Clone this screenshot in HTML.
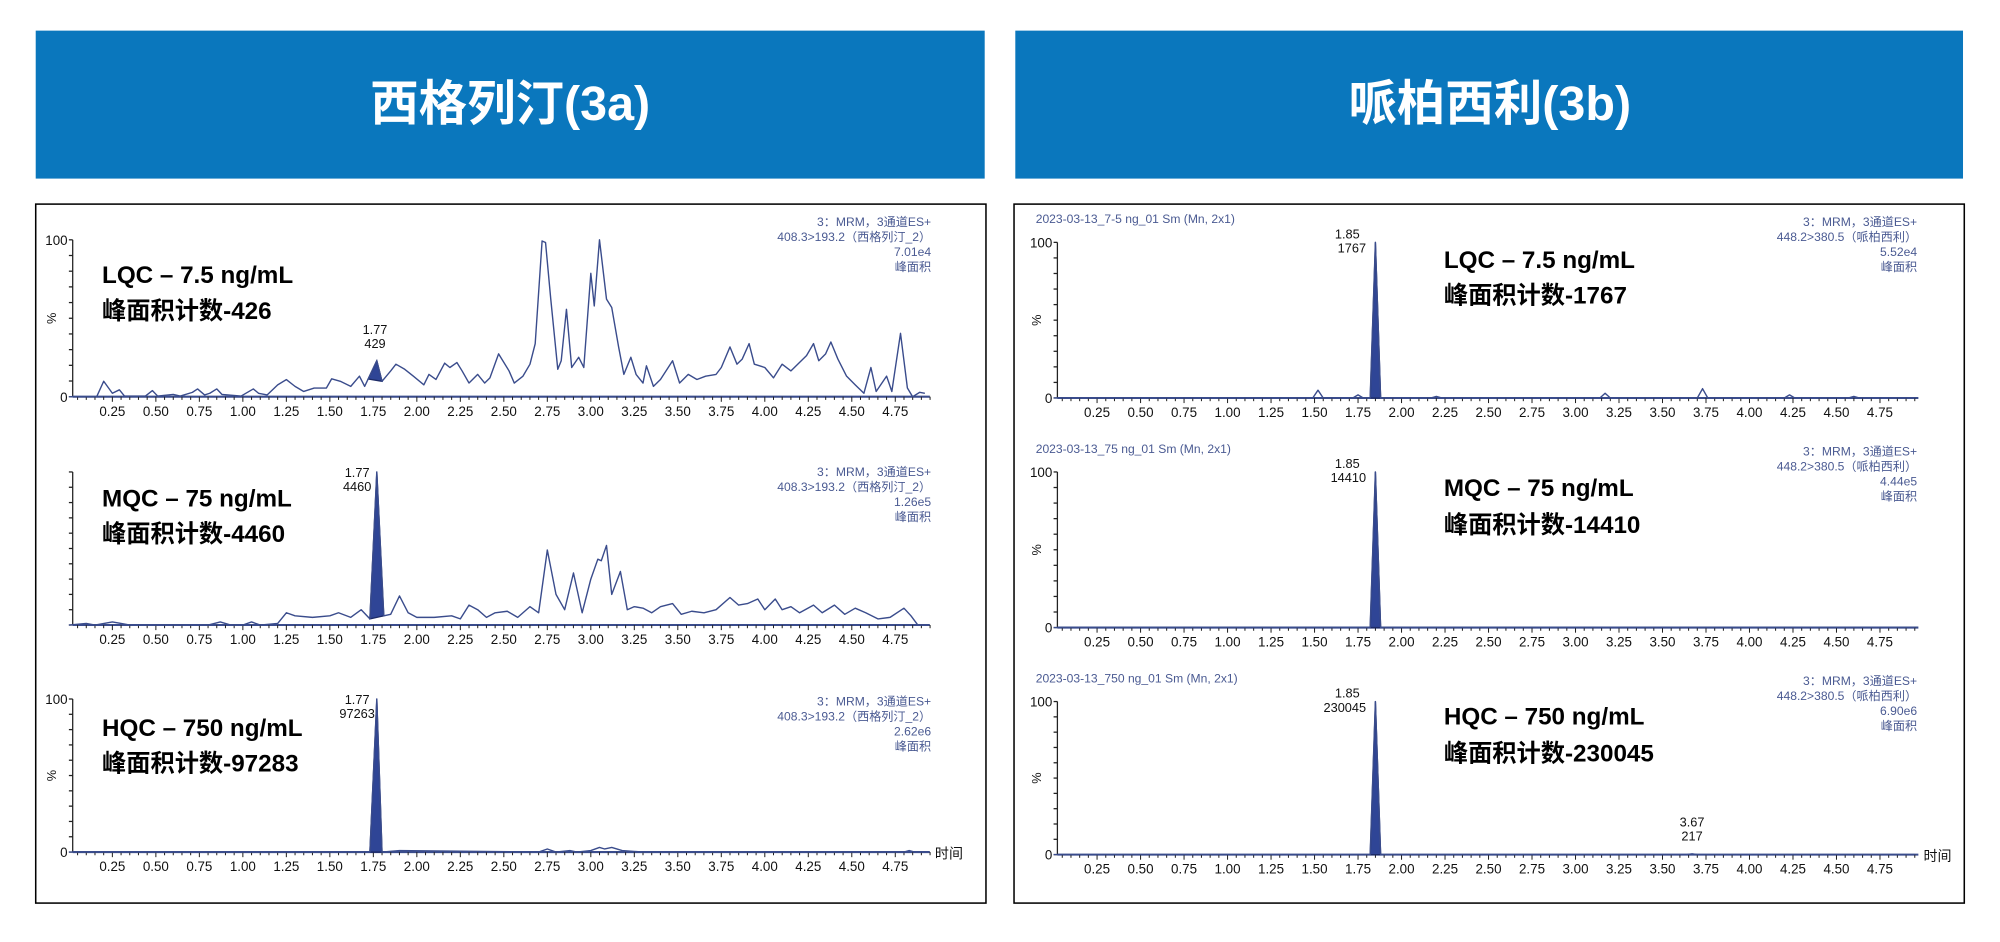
<!DOCTYPE html>
<html><head><meta charset="utf-8">
<style>
html,body{margin:0;padding:0;background:#fff;}
svg{display:block;}
text{font-family:"Liberation Sans","Noto Sans CJK SC",sans-serif;}
</style></head>
<body>
<svg id="root" width="2000" height="942" viewBox="0 0 1568 738.5" xmlns="http://www.w3.org/2000/svg">
<rect x="0" y="0" width="1568" height="738.5" fill="#fff"/>
<rect x="28" y="24" width="744" height="116" fill="#0a77bd"/>
<text x="400" y="94" text-anchor="middle" fill="#fff" font-size="38" font-weight="bold">西格列汀(3a)</text>
<rect x="796" y="24" width="743" height="116" fill="#0a77bd"/>
<text x="1168" y="94" text-anchor="middle" fill="#fff" font-size="38" font-weight="bold">哌柏西利(3b)</text>
<rect x="28" y="160" width="745" height="548" fill="none" stroke="#000" stroke-width="1.2"/>
<rect x="795" y="160" width="745" height="548" fill="none" stroke="#000" stroke-width="1.2"/>
<g id="charts"></g>
</svg>
<script>
// ---- data ----
const tickLabels = ["0.25","0.50","0.75","1.00","1.25","1.50","1.75","2.00","2.25","2.50","2.75","3.00","3.25","3.50","3.75","4.00","4.25","4.50","4.75"];
const L1_t = [0,0.16,0.20,0.25,0.29,0.32,0.44,0.48,0.51,0.60,0.64,0.71,0.74,0.78,0.81,0.85,0.88,0.99,1.06,1.09,1.14,1.20,1.25,1.30,1.35,1.41,1.48,1.51,1.56,1.62,1.67,1.70,1.77,1.80,1.85,1.88,1.93,1.98,2.04,2.07,2.11,2.16,2.19,2.23,2.26,2.30,2.35,2.39,2.42,2.47,2.53,2.56,2.61,2.65,2.68,2.72,2.74,2.77,2.81,2.83,2.86,2.89,2.93,2.96,3.00,3.02,3.05,3.09,3.12,3.16,3.19,3.23,3.26,3.30,3.32,3.36,3.40,3.47,3.51,3.56,3.61,3.66,3.72,3.75,3.80,3.84,3.87,3.91,3.94,4.00,4.05,4.10,4.15,4.19,4.24,4.28,4.31,4.35,4.38,4.42,4.47,4.52,4.57,4.61,4.64,4.70,4.73,4.78,4.82,4.85,4.89,4.92];
const L1_v = [0,0,9.8,2.2,4.4,0.4,0.4,3.9,0.4,1.5,0.4,2.8,5,1.1,2.2,5,1.5,0.4,5,2.2,1.1,7.6,10.9,6.6,3.3,5.5,5.5,11.4,9.8,6.6,13.1,6.6,22.9,9.8,16.4,20.7,17.5,13.1,7.6,14.2,11,21.4,18.6,21.8,16.4,8.7,14.2,8.7,12,27.3,16.4,8.7,13.1,20.7,33.8,99.3,98.3,62.2,17.5,22.9,55.7,18.6,25.1,18.6,78.6,57.9,100,62.2,56.8,31.7,14.2,25.1,14.2,8.7,19.7,6.6,11,22.9,8.7,14.2,11,13.1,14.2,18.6,31.7,20.7,24,33.8,20.7,18.6,12,20.7,16.4,20.7,26.2,33.8,22.9,27.3,34.9,24,13.1,7.6,2.2,18.6,3.3,13.1,3.3,40.4,5.5,0,2.8,2.2];
const L2_t = [0,0.10,0.15,0.25,0.30,0.35,0.45,0.60,0.80,0.87,0.93,1.00,1.05,1.10,1.20,1.25,1.30,1.40,1.50,1.55,1.62,1.68,1.73,1.77,1.81,1.85,1.90,1.95,2.00,2.10,2.20,2.25,2.30,2.35,2.40,2.45,2.52,2.58,2.65,2.70,2.75,2.80,2.85,2.90,2.95,3.00,3.04,3.06,3.09,3.12,3.17,3.21,3.25,3.30,3.35,3.40,3.47,3.52,3.58,3.65,3.72,3.80,3.85,3.90,3.96,4.00,4.06,4.10,4.15,4.20,4.28,4.33,4.40,4.46,4.52,4.58,4.65,4.72,4.80,4.84,4.88,4.92];
const L2_v = [0,1,0,2,1,0,0,0,0,2,0,0,2,0,1,8,6,5,6,8,5,10,4,100,6,7,19,8,5,5,6,4,13,10,5,8,9,5,12,8,49,20,10,34,8,30,43,42,52,20,35,10,12,11,8,12,14,7,9,8,10,18,13,14,17,10,17,10,12,8,13,8,13,7,11,8,4,5,11,6,0,0];
const L3_t = [0,1.73,1.77,1.80,1.90,2.70,2.75,2.80,2.88,2.92,3.00,3.05,3.08,3.12,3.18,3.30,4.80,4.83,4.86,4.92];
const L3_v = [0,0,100,0,1,0,2,0,1,0,1,3,2,3,1,0,0,1,0,0];
const R1_t = [0,1.49,1.52,1.55,1.72,1.75,1.78,1.82,1.85,1.88,2.17,2.20,2.23,3.14,3.17,3.20,3.70,3.73,3.76,4.20,4.23,4.26,4.57,4.60,4.63,4.95];
const R1_v = [0,0,5,0,0,2,0,0,100,0,0,1,0,0,3,0,0,6,0,0,2,0,0,1,0,0];
const R2_t = [0,1.82,1.85,1.88,4.95];
const R2_v = [0,0,100,0,0];
const R3_t = [0,1.82,1.85,1.88,3.64,3.67,3.70,4.95];
const R3_v = [0,0,100,0,0,0.5,0,0];
const peakTimes = ["1.77","1.77","1.77","1.85","1.85","1.85"];
const peakAreas = ["429","4460","97263","1767","14410","230045"];
const scales = ["7.01e4","1.26e5","2.62e6","5.52e4","4.44e5","6.90e6"];
const concLabels = ["LQC – 7.5 ng/mL","MQC – 75 ng/mL","HQC – 750 ng/mL","LQC – 7.5 ng/mL","MQC – 75 ng/mL","HQC – 750 ng/mL"];
const countLabels = ["峰面积计数-426","峰面积计数-4460","峰面积计数-97283","峰面积计数-1767","峰面积计数-14410","峰面积计数-230045"];
const sampleNames = ["","","","2023-03-13_7-5 ng_01 Sm (Mn, 2x1)","2023-03-13_75 ng_01 Sm (Mn, 2x1)","2023-03-13_750 ng_01 Sm (Mn, 2x1)"];
const transitions = ["408.3>193.2（西格列汀_2）","408.3>193.2（西格列汀_2）","408.3>193.2（西格列汀_2）","448.2>380.5（哌柏西利）","448.2>380.5（哌柏西利）","448.2>380.5（哌柏西利）"];
const peakRanges = [[1.72,1.80],[1.73,1.81],[1.73,1.80],[1.82,1.88],[1.82,1.88],[1.82,1.88]];

// ---- layout ----
const NS="http://www.w3.org/2000/svg";
const g=document.getElementById('charts');
const C="#3a4c8c";
const layouts=[
 {x0:54,k:136.4,top:188,base:311,xEnd:729,ylab:true,big:[80,222,250],ann:[730,177],time:false,pk:[294,262],anc:'middle'},
 {x0:54,k:136.4,top:370,base:490,xEnd:729,ylab:false,big:[80,397,425],ann:[730,373],time:false,pk:[280,374],anc:'middle'},
 {x0:54,k:136.4,top:548,base:668,xEnd:729,ylab:true,big:[80,577,605],ann:[730,553],time:true,pk:[280,552],anc:'middle'},
 {x0:826,k:136.4,top:190,base:312,xEnd:1504,ylab:true,big:[1132,210,238],ann:[1503,177],time:false,pk:[1071,187],anc:'end'},
 {x0:826,k:136.4,top:370,base:492,xEnd:1504,ylab:true,big:[1132,389,418],ann:[1503,357],time:false,pk:[1071,367],anc:'end'},
 {x0:826,k:136.4,top:550,base:670,xEnd:1504,ylab:true,big:[1132,568,597],ann:[1503,537],time:true,pk:[1071,547],anc:'end'}
];
const series=[[L1_t,L1_v],[L2_t,L2_v],[L3_t,L3_v],[R1_t,R1_v],[R2_t,R2_v],[R3_t,R3_v]];
const names=["left-lqc","left-mqc","left-hqc","right-lqc","right-mqc","right-hqc"];

function el(tag,attrs,parent,txt){const e=document.createElementNS(NS,tag);for(const a in attrs)e.setAttribute(a,attrs[a]);if(txt!==undefined)e.textContent=txt;(parent||g).appendChild(e);return e;}

layouts.forEach((L,i)=>{
 const grp=el('g',{});
 
 
 const X=t=>L.x0+t*L.k;
 const Y=v=>L.base-(v/100)*(L.base-L.top);
 const ya=el('line',{x1:L.x0+3,y1:L.top,x2:L.x0+3,y2:L.base,stroke:"#222",'stroke-width':1},grp);
 
 
 for(let v=0;v<=100;v+=10){el('line',{x1:L.x0,y1:Y(v),x2:L.x0+3,y2:Y(v),stroke:"#222",'stroke-width':1},grp);}
 const xa=el('line',{x1:L.x0+3,y1:L.base,x2:L.xEnd,y2:L.base,stroke:C,'stroke-width':1.6},grp);
 
 
 for(let j=1;j*0.05<4.96;j++){const t=j*0.05;const maj=j%5===0;el('line',{x1:X(t),y1:L.base,x2:X(t),y2:L.base+(maj?4:2.5),stroke:"#222",'stroke-width':0.8},grp);}
 tickLabels.forEach(s=>{const tl=el('text',{x:X(parseFloat(s)),y:L.base+15,'text-anchor':'middle','font-size':10.5,fill:"#111"},grp,s);
  
  });
 if(L.ylab){
  const a=el('text',{x:L.x0-1,y:L.top+4,'text-anchor':'end','font-size':10.5,fill:"#111"},grp,"100");
  
  
  const b=el('text',{x:L.x0-1,y:L.base+4,'text-anchor':'end','font-size':10.5,fill:"#111"},grp,"0");
  
  
  const cx=L.x0-10,cy=(L.top+L.base)/2;
  const p=el('text',{x:cx,y:cy,'text-anchor':'middle','font-size':10,fill:"#111",transform:`rotate(-90 ${cx} ${cy})`},grp,"%");
  
  
 }
 if(L.time){const tt=el('text',{x:L.xEnd+4,y:L.base+5,'font-size':11,fill:"#111"},grp,"时间");
  
  }
 const [T,V]=series[i];
 const [a,b]=peakRanges[i];
 const interp=t=>{for(let j=1;j<T.length;j++){if(T[j]>=t){const f=(t-T[j-1])/(T[j]-T[j-1]);return V[j-1]+f*(V[j]-V[j-1]);}}return V[V.length-1];};
 let pts=[[a,interp(a)]];T.forEach((t,j)=>{if(t>a&&t<b)pts.push([t,V[j]]);});pts.push([b,interp(b)]);
 const pf=el('polygon',{points:pts.map(p=>X(p[0])+','+Y(p[1])).join(' '),fill:"#2f4596",stroke:"#1c2a66",'stroke-width':1},grp);
 
 
 const d=T.map((t,j)=>(j?'L':'M')+X(t).toFixed(1)+','+Y(V[j]).toFixed(1)).join(' ');
 const tr=el('path',{d:d,fill:"none",stroke:C,'stroke-width':1.1,'stroke-linejoin':'round'},grp);
 
 
 const pl=el('text',{x:L.pk[0],y:L.pk[1],'text-anchor':L.anc,'font-size':10,fill:"#111"},grp);
 
 
 el('tspan',{x:L.anc==='end'?L.pk[0]-5:L.pk[0],dy:0},pl,peakTimes[i]);
 el('tspan',{x:L.pk[0],dy:11},pl,peakAreas[i]);
 const an=el('text',{x:L.ann[0],y:L.ann[1],'text-anchor':'end','font-size':9.5,fill:"#4a5a92"},grp);
 
 
 ["3：MRM，3通道ES+",transitions[i],scales[i],"峰面积"].forEach((s,k)=>el('tspan',{x:L.ann[0],dy:k?11.8:0},an,s));
 if(sampleNames[i]){const sn=el('text',{x:812,y:L.top-15,'font-size':9.5,fill:"#4a5a92"},grp,sampleNames[i]);
  
  }
 const c1=el('text',{x:L.big[0],y:L.big[1],'font-size':19,'font-weight':'bold',fill:"#000"},grp,concLabels[i]);
 
 
 const c2=el('text',{x:L.big[0],y:L.big[2],'font-size':19,'font-weight':'bold',fill:"#000"},grp,countLabels[i]);
 
 
});
(function(){const L=layouts[5];const X=t=>L.x0+t*L.k;
 const t=el('text',{x:X(3.67),y:L.base-22,'text-anchor':'middle','font-size':10,fill:"#111"});
 
 
 el('tspan',{x:X(3.67),dy:0},t,"3.67");el('tspan',{x:X(3.67),dy:11},t,"217");})();
</script>
</body></html>
